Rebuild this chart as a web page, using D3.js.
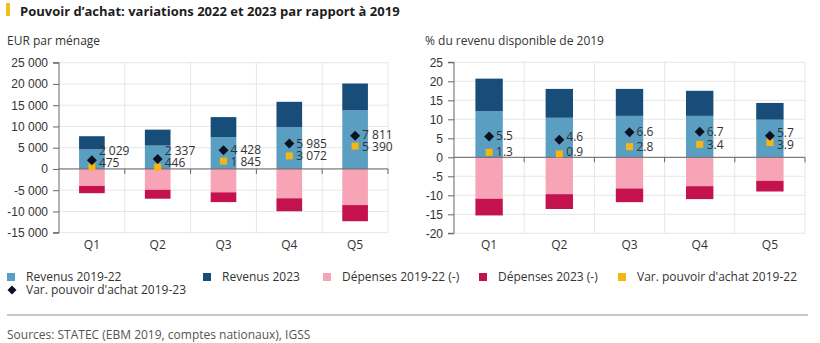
<!DOCTYPE html>
<html>
<head>
<meta charset="utf-8">
<script src="https://cdn.jsdelivr.net/npm/d3@7"></script>
<style>
  body { margin: 0; background: #fff; }
  svg { display: block; font-family: "Open Sans", "Noto Sans", sans-serif; }
</style>
</head>
<body>
<svg id="chart" width="820" height="343"></svg>
<script>
const categories = ["Q1", "Q2", "Q3", "Q4", "Q5"];

// EUR par ménage
const eurRev1922 = [4600, 5500, 7500, 9800, 13800];
const eurRev23 = [3100, 3750, 4700, 6000, 6300];
const eurDep1922 = [-4000, -4900, -5500, -6900, -8500];
const eurDep23 = [-1700, -2100, -2300, -3050, -3800];
const eurVar1923 = [2029, 2337, 4428, 5985, 7811];
const eurVar1922 = [475, 446, 1845, 3072, 5390];
const eurTicks = [-15000, -10000, -5000, 0, 5000, 10000, 15000, 20000, 25000];

// % du revenu disponible de 2019
const pctRev1922 = [12.1, 10.4, 10.9, 10.9, 9.9];
const pctRev23 = [8.6, 7.6, 7.1, 6.6, 4.4];
const pctDep1922 = [-10.9, -9.7, -8.2, -7.6, -6.2];
const pctDep23 = [-4.4, -3.9, -3.6, -3.4, -2.8];
const pctVar1923 = [5.5, 4.6, 6.6, 6.7, 5.7];
const pctVar1922 = [1.3, 0.9, 2.8, 3.4, 3.9];
const pctTicks = [-20, -15, -10, -5, 0, 5, 10, 15, 20, 25];

const seriesNames = ["Revenus 2019-22", "Revenus 2023", "Dépenses 2019-22 (-)", "Dépenses 2023 (-)",
  "Var. pouvoir d'achat 2019-22", "Var. pouvoir d'achat 2019-23"];
const colors = {
  rev1922: "#5a9fc2",
  rev23: "#174d78",
  dep1922: "#f6a4b6",
  dep23: "#c4124f",
  var1922: "#f6b612",
  var1923: "#0c1222"
};

const locale = d3.formatLocale({ decimal: ".", thousands: " ", grouping: [3], currency: ["", ""], minus: "-" });
const fmtEur = locale.format(",d");
const fmtPct = locale.format(".1f");
const fmtTick = locale.format(",d");

const svg = d3.select("#chart");
const textColor = "#333";

// title
svg.append("rect").attr("x", 6).attr("y", 3).attr("width", 4).attr("height", 13).attr("fill", "#f3bd1c");
svg.append("text").attr("x", 20).attr("y", 11).attr("dy", "0.35em")
  .attr("font-size", 13).attr("font-weight", 700).attr("fill", "#1d1d1d")
  .text("Pouvoir d’achat: variations 2022 et 2023 par rapport à 2019");

function panel(opts) {
  const g = svg.append("g");
  const x = d3.scaleBand().domain(categories).range(opts.xRange);
  const y = d3.scaleLinear().domain([opts.ticks[0], opts.ticks[opts.ticks.length - 1]]).range(opts.yRange);
  const top = opts.yRange[1], bottom = opts.yRange[0];

  g.append("text").attr("x", opts.titleX).attr("y", 41).attr("dy", "0.35em")
    .attr("font-size", 12).attr("fill", textColor).text(opts.title);

  // grid
  g.selectAll(".hgrid").data(opts.ticks).join("line")
    .attr("x1", opts.xRange[0]).attr("x2", opts.xRange[1])
    .attr("y1", d => y(d)).attr("y2", d => y(d))
    .attr("stroke", "#e6e6e6").attr("stroke-width", 1);
  const bounds = categories.map(c => x(c) + x.bandwidth());
  g.selectAll(".vgrid").data(bounds).join("line")
    .attr("x1", d => d).attr("x2", d => d).attr("y1", top).attr("y2", bottom)
    .attr("stroke", "#e6e6e6").attr("stroke-width", 1);

  // stacked bars
  const rows = categories.map((c, i) => ({
    cat: c, rev1922: opts.rev1922[i], rev23: opts.rev23[i], dep1922: opts.dep1922[i], dep23: opts.dep23[i]
  }));
  const stack = d3.stack().keys(["rev1922", "rev23", "dep1922", "dep23"]).offset(d3.stackOffsetDiverging);
  const bw = x.bandwidth() * 0.39;
  g.selectAll(".layer").data(stack(rows)).join("g")
    .attr("fill", d => colors[d.key])
    .selectAll("rect").data(d => d).join("rect")
      .attr("x", d => x(d.data.cat) + (x.bandwidth() - bw) / 2)
      .attr("width", bw)
      .attr("y", d => y(Math.max(d[0], d[1])))
      .attr("height", d => Math.abs(y(d[0]) - y(d[1])));

  // y axis
  const yAxis = g.append("g").attr("transform", `translate(${opts.xRange[0]},0)`)
    .call(d3.axisLeft(y).tickValues(opts.ticks).tickFormat(fmtTick).tickSize(6).tickPadding(5));
  yAxis.select(".domain").attr("stroke", "#666").attr("d", `M-6,${bottom}H0V${top}H-6`);
  yAxis.selectAll(".tick line").attr("stroke", "#666");
  yAxis.selectAll(".tick text").attr("font-size", 12).attr("fill", textColor).attr("font-family", null);

  // zero line with category ticks
  const x0 = y(0);
  g.append("line").attr("x1", opts.xRange[0]).attr("x2", opts.xRange[1])
    .attr("y1", x0).attr("y2", x0).attr("stroke", "#666").attr("stroke-width", 1);
  g.selectAll(".xtick").data(bounds).join("line")
    .attr("x1", d => d).attr("x2", d => d).attr("y1", x0).attr("y2", x0 + 5)
    .attr("stroke", "#666");
  g.selectAll(".xlab").data(categories).join("text")
    .attr("x", d => x(d) + x.bandwidth() / 2).attr("y", 245).attr("dy", "0.35em")
    .attr("text-anchor", "middle").attr("font-size", 12).attr("fill", textColor).text(d => d);

  // markers and labels; labels that collide are spread apart and kept above the zero line
  const gap = 12;
  const pts = categories.map((c, i) => {
    const cx = x(c) + x.bandwidth() / 2;
    let dy = y(opts.var1923[i]), sy = y(opts.var1922[i]);
    let dl = dy, sl = sy;
    if (sl - dl < gap) {
      const mid = (dl + sl) / 2;
      dl = mid - gap / 2; sl = mid + gap / 2;
    }
    if (sl > x0 - 6) { const s = sl - (x0 - 6); sl -= s; dl -= s; }
    return { cx, dy, sy, dl, sl, dv: opts.var1923[i], sv: opts.var1922[i] };
  });
  g.selectAll(".sq").data(pts).join("rect")
    .attr("x", d => d.cx - 3.5).attr("y", d => d.sy - 3.5).attr("width", 7).attr("height", 7)
    .attr("fill", colors.var1922);
  g.selectAll(".dia").data(pts).join("path")
    .attr("d", d => `M${d.cx},${d.dy - 5}L${d.cx + 5},${d.dy}L${d.cx},${d.dy + 5}L${d.cx - 5},${d.dy}Z`)
    .attr("fill", colors.var1923);
  g.selectAll(".dlab").data(pts).join("text")
    .attr("x", d => d.cx + 7).attr("y", d => d.dl).attr("dy", "0.35em")
    .attr("font-size", 12).attr("fill", textColor).text(d => opts.fmt(d.dv));
  g.selectAll(".slab").data(pts).join("text")
    .attr("x", d => d.cx + 7).attr("y", d => d.sl).attr("dy", "0.35em")
    .attr("font-size", 12).attr("fill", textColor).text(d => opts.fmt(d.sv));
}

panel({
  title: "EUR par ménage", titleX: 7,
  xRange: [59, 388], yRange: [232.7, 62.7], ticks: eurTicks,
  rev1922: eurRev1922, rev23: eurRev23, dep1922: eurDep1922, dep23: eurDep23,
  var1923: eurVar1923, var1922: eurVar1922, fmt: fmtEur
});
panel({
  title: "% du revenu disponible de 2019", titleX: 425,
  xRange: [454, 805], yRange: [233.3, 62.3], ticks: pctTicks,
  rev1922: pctRev1922, rev23: pctRev23, dep1922: pctDep1922, dep23: pctDep23,
  var1923: pctVar1923, var1922: pctVar1922, fmt: fmtPct
});

// legend
const legendItems = [
  { name: seriesNames[0], color: colors.rev1922, shape: "square", x: 7, y: 277 },
  { name: seriesNames[1], color: colors.rev23, shape: "square", x: 203, y: 277 },
  { name: seriesNames[2], color: colors.dep1922, shape: "square", x: 323, y: 277 },
  { name: seriesNames[3], color: colors.dep23, shape: "square", x: 479, y: 277 },
  { name: seriesNames[4], color: colors.var1922, shape: "square", x: 618, y: 277 },
  { name: seriesNames[5], color: colors.var1923, shape: "diamond", x: 7, y: 290 }
];
const legend = svg.append("g").selectAll("g").data(legendItems).join("g")
  .attr("transform", d => `translate(${d.x},${d.y})`);
legend.filter(d => d.shape === "square").append("rect")
  .attr("x", 0).attr("y", -4).attr("width", 8).attr("height", 8).attr("fill", d => d.color);
legend.filter(d => d.shape === "diamond").append("path")
  .attr("d", "M5,-4.5L9.5,0L5,4.5L0.5,0Z").attr("fill", d => d.color);
legend.append("text").attr("x", 19).attr("dy", "0.35em")
  .attr("font-size", 12).attr("fill", textColor).text(d => d.name);

// footer
svg.append("line").attr("x1", 7).attr("x2", 808).attr("y1", 315).attr("y2", 315)
  .attr("stroke", "#b5b5b5").attr("stroke-width", 1.5);
svg.append("text").attr("x", 7).attr("y", 335).attr("dy", "0.35em")
  .attr("font-size", 12).attr("fill", "#555")
  .text("Sources: STATEC (EBM 2019, comptes nationaux), IGSS");
</script>
</body>
</html>
